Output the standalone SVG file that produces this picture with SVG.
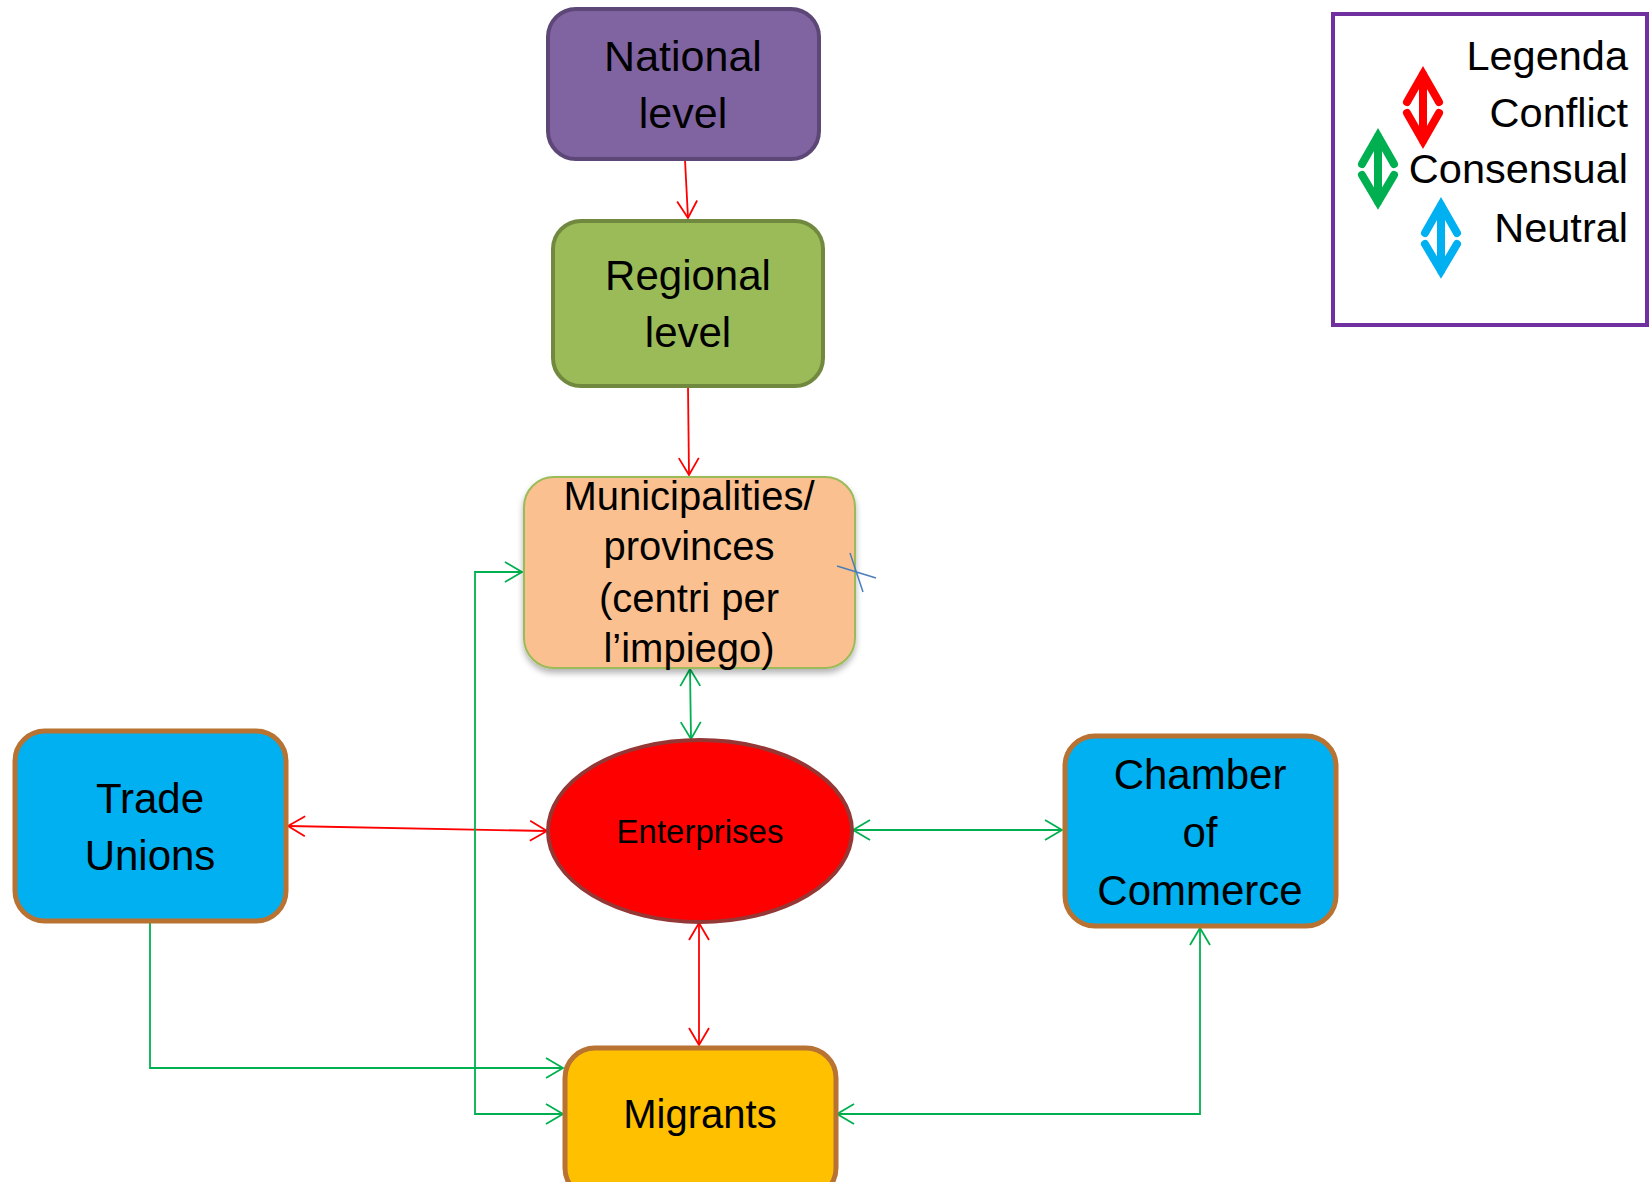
<svg xmlns="http://www.w3.org/2000/svg" width="1649" height="1182" viewBox="0 0 1649 1182">
<style>
text{font-family:"Liberation Sans",Arial,sans-serif;fill:#000;text-anchor:middle}
.red{stroke:#ff0000;stroke-width:1.8;fill:none}
.grn{stroke:#00b050;stroke-width:1.8;fill:none}
.lg{stroke-width:8;fill:none;stroke-linecap:round;stroke-linejoin:miter}
</style>
<defs>
<marker id="ar" markerUnits="userSpaceOnUse" markerWidth="22" markerHeight="24" viewBox="0 0 22 24" refX="19" refY="12" orient="auto-start-reverse"><path d="M2,2 L19,12 L2,22" fill="none" stroke="#ff0000" stroke-width="1.8"/></marker>
<marker id="ag" markerUnits="userSpaceOnUse" markerWidth="22" markerHeight="24" viewBox="0 0 22 24" refX="19" refY="12" orient="auto-start-reverse"><path d="M2,2 L19,12 L2,22" fill="none" stroke="#00b050" stroke-width="1.8"/></marker>
<filter id="sh" x="-10%" y="-10%" width="120%" height="130%"><feDropShadow dx="0" dy="4" stdDeviation="3" flood-color="#000" flood-opacity="0.3"/></filter>
</defs>
<rect width="1649" height="1182" fill="#fff"/>

<g id="connectors">
<line class="red" x1="685" y1="160" x2="688" y2="218" marker-end="url(#ar)"/>
<line class="red" x1="688" y1="387" x2="689" y2="475" marker-end="url(#ar)"/>
<line class="grn" x1="690" y1="669" x2="691" y2="739" marker-start="url(#ag)" marker-end="url(#ag)"/>
<line class="red" x1="288" y1="826" x2="547" y2="831" marker-start="url(#ar)" marker-end="url(#ar)"/>
<line class="grn" x1="853" y1="830" x2="1062" y2="830" marker-start="url(#ag)" marker-end="url(#ag)"/>
<line class="red" x1="699" y1="923" x2="699" y2="1045" marker-start="url(#ar)" marker-end="url(#ar)"/>
<polyline class="grn" points="150,923 150,1068 563,1068" marker-end="url(#ag)"/>
<polyline class="grn" points="522,572 475,572 475,1114 563,1114" marker-start="url(#ag)" marker-end="url(#ag)"/>
<polyline class="grn" points="837,1114 1200,1114 1200,928" marker-start="url(#ag)" marker-end="url(#ag)"/>
</g>

<g id="national">
<rect x="548" y="9" width="271" height="150" rx="28" fill="#8064a2" stroke="#5c4776" stroke-width="4"/>
<text x="683" y="71" font-size="43">National</text>
<text x="683" y="128" font-size="43">level</text>
</g>

<g id="regional">
<rect x="553" y="221" width="270" height="165" rx="28" fill="#9bbb59" stroke="#71893f" stroke-width="4"/>
<text x="688" y="290" font-size="42">Regional</text>
<text x="688" y="347" font-size="42">level</text>
</g>

<g id="municipalities">
<rect x="524" y="477" width="331" height="191" rx="30" fill="#fac090" stroke="#9bbb59" stroke-width="2" filter="url(#sh)"/>
<text x="689" y="510" font-size="40">Municipalities/</text>
<text x="689" y="560" font-size="40">provinces</text>
<text x="689" y="612" font-size="40">(centri per</text>
<text x="689" y="662" font-size="40">l’impiego)</text>
<line x1="837" y1="566" x2="876" y2="578" stroke="#4a7ebb" stroke-width="1.5"/>
<line x1="850" y1="553" x2="863" y2="592" stroke="#4a7ebb" stroke-width="1.5"/>
</g>

<g id="enterprises">
<ellipse cx="700" cy="831" rx="152" ry="91" fill="#ff0000" stroke="#953735" stroke-width="4"/>
<text x="700" y="843" font-size="33">Enterprises</text>
</g>

<g id="trade-unions">
<rect x="15" y="731" width="271" height="190" rx="30" fill="#00b0f0" stroke="#b87333" stroke-width="5"/>
<text x="150" y="813" font-size="42">Trade</text>
<text x="150" y="870" font-size="42">Unions</text>
</g>

<g id="chamber">
<rect x="1065" y="736" width="271" height="190" rx="30" fill="#00b0f0" stroke="#b87333" stroke-width="5"/>
<text x="1200" y="789" font-size="42">Chamber</text>
<text x="1200" y="847" font-size="42">of</text>
<text x="1200" y="905" font-size="42">Commerce</text>
</g>

<g id="migrants">
<rect x="565" y="1048" width="271" height="150" rx="30" fill="#ffc000" stroke="#b87333" stroke-width="5"/>
<text x="700" y="1128" font-size="40">Migrants</text>
</g>

<g id="legend">
<rect x="1333" y="14" width="314" height="311" fill="#fff" stroke="#7030a0" stroke-width="4"/>
<text x="1628" y="70" font-size="41.5" style="text-anchor:end">Legenda</text>
<text x="1628" y="127" font-size="41.5" style="text-anchor:end">Conflict</text>
<text x="1628" y="183" font-size="41.5" style="text-anchor:end">Consensual</text>
<text x="1628" y="242" font-size="41.5" style="text-anchor:end">Neutral</text>
<path class="lg" stroke="#ff0000" d="M1407,102 L1423,74 L1439,102 M1423,74 L1423,141 M1407,113 L1423,141 L1439,113"/>
<path class="lg" stroke="#00b050" d="M1362,164 L1378,136 L1394,164 M1378,136 L1378,202 M1362,175 L1378,202 L1394,175"/>
<path class="lg" stroke="#00b0f0" d="M1425,233 L1441,205 L1457,233 M1441,205 L1441,271 M1425,244 L1441,271 L1457,244"/>
</g>
</svg>
